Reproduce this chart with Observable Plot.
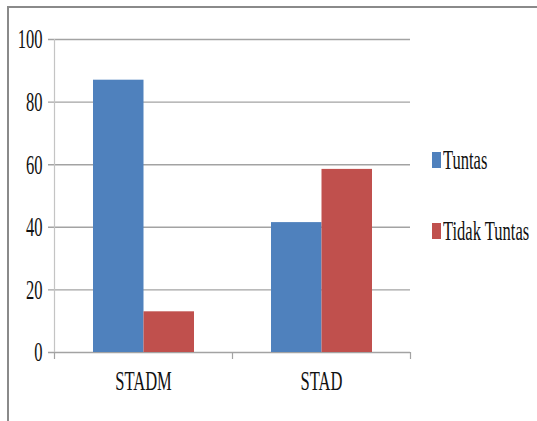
<!DOCTYPE html>
<html>
<head>
<meta charset="utf-8">
<script src="https://cdn.jsdelivr.net/npm/d3@7"></script>
<script src="https://cdn.jsdelivr.net/npm/@observablehq/plot@0.6"></script>
<style>
  html, body { margin: 0; padding: 0; background: #fff; }
  #wrap { position: relative; width: 537px; height: 421px; overflow: hidden; font-family: "Liberation Serif", serif; }
  #border { position: absolute; left: 7px; top: 6px; right: -10px; bottom: -10px; border-top: 2px solid #8a8a8a; border-left: 2px solid #8a8a8a; }
  #chart { position: absolute; left: 0; top: 0; }
  .leg { position: absolute; left: 432px; height: 16px; display: flex; align-items: center; }
  .leg .sw { width: 9px; height: 16px; margin-right: 2px; }
  .leg .lb { font-size: 28px; color: #111; transform: scaleX(0.59); transform-origin: left center; white-space: nowrap; line-height: 16px; }
</style>
</head>
<body>
<div id="wrap">
  <div id="border"></div>
  <div id="chart"></div>
  <div id="legend"></div>
</div>
<script>
const categories = ["STADM", "STAD"];
const series = ["Tuntas", "Tidak Tuntas"];
const tuntas = [87, 41.5];
const tidakTuntas = [13, 58.5];
const yTicks = [0, 20, 40, 60, 80, 100];
const colors = ["#4F81BD", "#C0504D"];

const tuntasData = categories.map((c, i) => ({cat: c, v: tuntas[i]}));
const tidakData = categories.map((c, i) => ({cat: c, v: tidakTuntas[i]}));

const font = "Liberation Serif";
const chart = Plot.plot({
  width: 537,
  height: 421,
  marginLeft: 54,
  marginRight: 127,
  marginTop: 39,
  marginBottom: 69,
  style: {fontFamily: font, background: "transparent", overflow: "visible"},
  x: {domain: categories, padding: 0, axis: null},
  y: {domain: [0, 100], axis: null},
  marks: [
    Plot.ruleY(yTicks, {y: d => d, stroke: "#a3a3a3", strokeWidth: 1.4, insetLeft: -6}),
    Plot.ruleX([categories[0]], {x: d => d, dx: -89, y1: 0, y2: 100, stroke: "#c4c4c4", strokeWidth: 1.2}),
    Plot.ruleX(categories, {x: d => d, dx: -89, y1: 0, y2: 0, insetBottom: -7, stroke: "#a3a3a3", strokeWidth: 1.2}),
    Plot.ruleX([categories[categories.length - 1]], {x: d => d, dx: 89, y1: 0, y2: 0, insetBottom: -7, stroke: "#a3a3a3", strokeWidth: 1.2}),
    Plot.barY(tuntasData, {x: "cat", y: "v", fill: colors[0], insetLeft: 39, insetRight: 88.5}),
    Plot.barY(tidakData, {x: "cat", y: "v", fill: colors[1], insetLeft: 89.5, insetRight: 38}),
    Plot.text(yTicks, {y: d => d, text: d => String(d), frameAnchor: "left", textAnchor: "end", dx: -12, fontSize: 28, fill: "#111"}),
    Plot.text(categories, {x: d => d, text: d => d, frameAnchor: "bottom", dy: 37, fontSize: 28, fill: "#111"})
  ]
});
document.getElementById("chart").appendChild(chart);

// condense the serif labels horizontally like the reference
d3.select(chart).selectAll("text").each(function() {
  const t = this.getAttribute("transform") || "";
  this.setAttribute("transform", `${t} scale(0.59,1)`);
});

// legend
const legend = document.getElementById("legend");
const legendTops = [152, 223];
series.forEach((s, i) => {
  const item = document.createElement("div");
  item.className = "leg";
  item.style.top = legendTops[i] + "px";
  const sw = document.createElement("div");
  sw.className = "sw";
  sw.style.background = colors[i];
  const lb = document.createElement("span");
  lb.className = "lb";
  lb.textContent = s;
  item.appendChild(sw);
  item.appendChild(lb);
  legend.appendChild(item);
});
</script>
</body>
</html>
